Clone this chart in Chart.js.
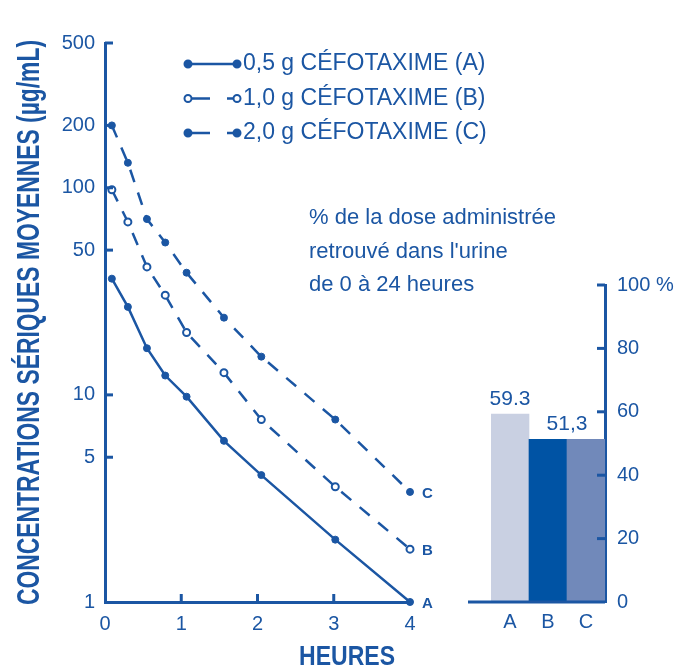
<!DOCTYPE html>
<html>
<head>
<meta charset="utf-8">
<script src="https://cdn.jsdelivr.net/npm/chart.js@4.4.1/dist/chart.umd.min.js"></script>
<style>
  html, body { margin: 0; padding: 0; background: #fff; }
  #wrap { position: relative; width: 678px; height: 670px; }
  #curves { position: absolute; left: 0; top: 0; }
  #urine { position: absolute; left: 440px; top: 260px; }
</style>
</head>
<body>
<div id="wrap">
  <canvas id="curves" width="678" height="670"></canvas>
  <canvas id="urine" width="238" height="410"></canvas>
</div>
<script>
// serum concentrations
const hours = [0.09, 0.3, 0.55, 0.79, 1.07, 1.56, 2.05, 3.02, 4];
const doseA = [36.4, 26.6, 16.8, 12.4, 9.8, 6.0, 4.1, 2.0, 1.0];
const doseB = [97.8, 68.4, 41.5, 30.3, 20.0, 12.8, 7.6, 3.6, 1.8];
const doseC = [200, 132, 70.6, 54.4, 38.9, 23.6, 15.3, 7.6, 3.4];
const seriesNames = ['0,5 g CÉFOTAXIME (A)', '1,0 g CÉFOTAXIME (B)', '2,0 g CÉFOTAXIME (C)'];
const seriesTags = ['A', 'B', 'C'];
const concTicks = [1, 5, 10, 50, 100, 200, 500];
const hourTicks = [0, 1, 2, 3, 4];
const yTitle = 'CONCENTRATIONS SÉRIQUES MOYENNES (µg/mL)';

// urinary recovery bars
const urineCats = ['A', 'B', 'C'];
const urinePct = [59.3, 51.3, 51.3];
const urineText = ['59.3', '51,3', '51,3'];
const pctTicks = [0, 20, 40, 60, 80, 100];
const noteLines = ['% de la dose administrée', "retrouvé dans l'urine", 'de 0 à 24 heures'];

const BLUE = '#1b56a3';
const FONT = "'Liberation Sans', Arial, sans-serif";

const toPts = arr => arr.map((v, i) => ({ x: hours[i], y: v }));

function seg(ctx, x1, y1, x2, y2) {
  ctx.beginPath();
  ctx.moveTo(x1, y1);
  ctx.lineTo(x2, y2);
  ctx.stroke();
}

const curveDecor = {
  id: 'curveDecor',
  afterDraw(chart) {
    const { ctx, chartArea: a, scales: { x, y } } = chart;
    ctx.save();
    ctx.strokeStyle = BLUE;
    ctx.lineWidth = 3;
    // inward tick marks
    concTicks.slice(1).forEach(v => {
      const py = y.getPixelForValue(v);
      seg(ctx, a.left, py, a.left + 8, py);
    });
    hourTicks.slice(1, -1).forEach(v => {
      const px = x.getPixelForValue(v);
      seg(ctx, px, a.bottom, px, a.bottom - 8);
    });

    // A / B / C at the end of each curve
    ctx.fillStyle = BLUE;
    ctx.font = 'bold 15px ' + FONT;
    ctx.textBaseline = 'middle';
    ctx.textAlign = 'left';
    chart.data.datasets.forEach((ds, i) => {
      const pts = chart.getDatasetMeta(i).data;
      const p = pts[pts.length - 1];
      ctx.fillText(seriesTags[i], p.x + 12, p.y + 2);
    });

    // legend
    chart.data.datasets.forEach((ds, i) => {
      const ly = 64 + i * 34.5;
      ctx.strokeStyle = BLUE;
      ctx.lineWidth = 2.5;
      ctx.setLineDash(i === 0 ? [] : [22, 17]);
      seg(ctx, 188, ly, 237, ly);
      ctx.setLineDash([]);
      [188, 237].forEach(px => {
        ctx.beginPath();
        ctx.arc(px, ly, 3.5, 0, Math.PI * 2);
        ctx.fillStyle = ds.pointBackgroundColor;
        ctx.fill();
        ctx.lineWidth = 2;
        ctx.stroke();
      });
      ctx.fillStyle = BLUE;
      ctx.font = '23px ' + FONT;
      ctx.fillText(ds.label, 243, ly);
    });

    // note above the bars
    ctx.font = '22px ' + FONT;
    noteLines.forEach((t, i) => ctx.fillText(t, 309, 218 + i * 33.5));

    // x axis title
    ctx.font = 'bold 28px ' + FONT;
    ctx.textAlign = 'center';
    ctx.fillText('HEURES', 347, 657, 96);

    // y axis title, squeezed to the axis height like the original
    ctx.translate(30, (a.top + a.bottom) / 2);
    ctx.rotate(-Math.PI / 2);
    ctx.font = 'bold 31px ' + FONT;
    ctx.fillText(yTitle, 0, 0, a.bottom - a.top + 6);
    ctx.restore();
  }
};

new Chart(document.getElementById('curves'), {
  type: 'line',
  data: {
    datasets: [
      { label: seriesNames[0], data: toPts(doseA), borderColor: BLUE, borderWidth: 2.5,
        pointRadius: 3.5, pointBackgroundColor: BLUE, pointBorderColor: BLUE, pointBorderWidth: 1, clip: false },
      { label: seriesNames[1], data: toPts(doseB), borderColor: BLUE, borderWidth: 2.5, borderDash: [13, 11],
        pointRadius: 3.5, pointBackgroundColor: '#fff', pointBorderColor: BLUE, pointBorderWidth: 2, clip: false },
      { label: seriesNames[2], data: toPts(doseC), borderColor: BLUE, borderWidth: 2.5, borderDash: [13, 11],
        pointRadius: 3.5, pointBackgroundColor: BLUE, pointBorderColor: BLUE, pointBorderWidth: 1, clip: false }
    ]
  },
  options: {
    responsive: false,
    animation: false,
    layout: { padding: { left: 0, top: 43, right: 268, bottom: 0 } },
    plugins: { legend: { display: false }, tooltip: { enabled: false } },
    scales: {
      x: {
        type: 'linear', min: 0, max: 4,
        afterBuildTicks: s => { s.ticks = hourTicks.map(v => ({ value: v })); },
        afterFit: s => { s.height = 68; },
        grid: { drawOnChartArea: false, drawTicks: false },
        border: { color: BLUE, width: 3 },
        ticks: { color: BLUE, font: { family: FONT, size: 20 }, padding: 10 }
      },
      y: {
        type: 'logarithmic', min: 1, max: 500,
        afterBuildTicks: s => { s.ticks = concTicks.map(v => ({ value: v })); },
        afterFit: s => { s.width = 105; },
        grid: { drawOnChartArea: false, drawTicks: false },
        border: { color: BLUE, width: 3 },
        ticks: { color: BLUE, font: { family: FONT, size: 20 }, padding: 10, callback: v => String(v) }
      }
    }
  },
  plugins: [curveDecor]
});

const barDecor = {
  id: 'barDecor',
  afterDraw(chart) {
    const { ctx, chartArea: a, scales: { y } } = chart;
    ctx.save();
    ctx.strokeStyle = BLUE;
    ctx.lineWidth = 3;
    const y0 = y.getPixelForValue(0);
    seg(ctx, a.left - 23, y0, a.right, y0);
    pctTicks.slice(1).forEach(v => {
      const py = y.getPixelForValue(v);
      seg(ctx, a.right - 8, py, a.right, py);
    });
    // value labels, shared label centred over equal neighbours
    const bars = chart.getDatasetMeta(0).data;
    ctx.fillStyle = BLUE;
    ctx.font = '21px ' + FONT;
    ctx.textAlign = 'center';
    ctx.textBaseline = 'alphabetic';
    urineText.forEach((t, i) => {
      if (i > 0 && urineText[i - 1] === t) return;
      let cx = bars[i].x;
      let top = bars[i].y;
      if (urineText[i + 1] === t) {
        cx = (bars[i].x + bars[i + 1].x) / 2;
        top = Math.min(top, bars[i + 1].y);
      }
      ctx.fillText(t, cx, top - 9);
    });
    ctx.restore();
  }
};

new Chart(document.getElementById('urine'), {
  type: 'bar',
  data: {
    labels: urineCats,
    datasets: [{
      data: urinePct,
      backgroundColor: ['#c9d0e2', '#0053a4', '#7189ba'],
      borderWidth: 0,
      barPercentage: 1,
      categoryPercentage: 1
    }]
  },
  options: {
    responsive: false,
    animation: false,
    layout: { padding: { left: 51, top: 25, right: 0, bottom: 0 } },
    plugins: { legend: { display: false }, tooltip: { enabled: false } },
    scales: {
      x: {
        afterFit: s => { s.height = 68; },
        grid: { display: false },
        border: { display: false },
        ticks: { color: BLUE, font: { family: FONT, size: 20 }, padding: 0 }
      },
      y: {
        position: 'right', min: 0, max: 100,
        afterBuildTicks: s => { s.ticks = pctTicks.map(v => ({ value: v })); },
        afterFit: s => { s.width = 73; },
        grid: { drawOnChartArea: false, drawTicks: false },
        border: { color: BLUE, width: 3 },
        ticks: { color: BLUE, font: { family: FONT, size: 20 }, padding: 12,
                 callback: v => v === 100 ? '100 %' : String(v) }
      }
    }
  },
  plugins: [barDecor]
});
</script>
</body>
</html>
